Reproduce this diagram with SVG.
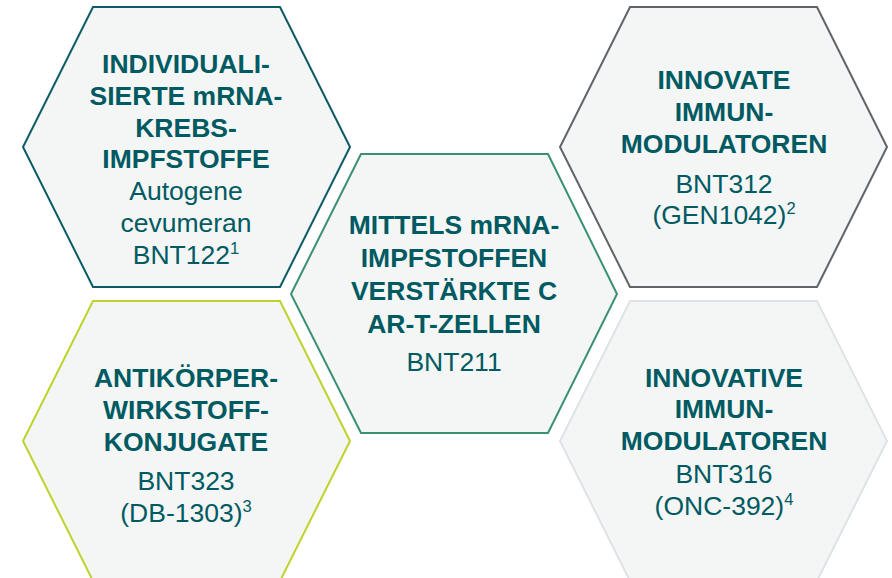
<svg xmlns="http://www.w3.org/2000/svg" width="892" height="578" viewBox="0 0 892 578">
<style>
.hex{fill:#f4f6f5;stroke-width:2;stroke-linejoin:miter}
.b{font-family:"Liberation Sans",Arial,sans-serif;font-weight:bold;font-size:26.5px;fill:#005a62;text-anchor:middle}
.r{font-family:"Liberation Sans",Arial,sans-serif;font-size:26.5px;fill:#005a62;text-anchor:middle}
.sup{font-size:16.5px}
</style>
<rect width="892" height="578" fill="#ffffff"/>
<g id="connectors"></g>
<g id="node-tl">
<polygon class="hex" stroke="#0b5a66" points="93,7 280,7 350,147 280,287 93,287 23,147"/>
<text class="b" x="186" y="73">INDIVIDUALI-</text>
<text class="b" x="186" y="105">SIERTE mRNA-</text>
<text class="b" x="186" y="137">KREBS-</text>
<text class="b" x="186" y="168">IMPFSTOFFE</text>
<text class="r" x="186" y="200">Autogene</text>
<text class="r" x="186" y="232">cevumeran</text>
<text class="r" x="186" y="264">BNT122<tspan class="sup" dy="-10">1</tspan></text>
</g>
<g id="node-bl">
<polygon class="hex" stroke="#bed22a" points="93,301 280,301 350,441 280,581 93,581 23,441"/>
<text class="b" x="186" y="387">ANTIKÖRPER-</text>
<text class="b" x="186" y="419">WIRKSTOFF-</text>
<text class="b" x="186" y="451">KONJUGATE</text>
<text class="r" x="186" y="490">BNT323</text>
<text class="r" x="186" y="522">(DB-1303)<tspan class="sup" dy="-10">3</tspan></text>
</g>
<g id="node-center">
<polygon class="hex" stroke="#3a9170" points="361,154 548,154 617,294 548,433 361,433 291,294"/>
<text class="b" x="454" y="234">MITTELS mRNA-</text>
<text class="b" x="454" y="267">IMPFSTOFFEN</text>
<text class="b" x="454" y="300">VERSTÄRKTE C</text>
<text class="b" x="454" y="333">AR-T-ZELLEN</text>
<text class="r" x="454" y="371">BNT211</text>
</g>
<g id="node-tr">
<polygon class="hex" stroke="#5f6469" points="630,7 817,7 887,147 817,287 630,287 560,147"/>
<text class="b" x="724" y="89">INNOVATE</text>
<text class="b" x="724" y="121">IMMUN-</text>
<text class="b" x="724" y="153">MODULATOREN</text>
<text class="r" x="724" y="193">BNT312</text>
<text class="r" x="724" y="224">(GEN1042)<tspan class="sup" dy="-10">2</tspan></text>
</g>
<g id="node-br">
<polygon class="hex" stroke="#dfe2e6" points="630,301 817,301 887,441 817,581 630,581 560,441"/>
<text class="b" x="724" y="387">INNOVATIVE</text>
<text class="b" x="724" y="418">IMMUN-</text>
<text class="b" x="724" y="450">MODULATOREN</text>
<text class="r" x="724" y="483">BNT316</text>
<text class="r" x="724" y="515">(ONC-392)<tspan class="sup" dy="-10">4</tspan></text>
</g>
</svg>
